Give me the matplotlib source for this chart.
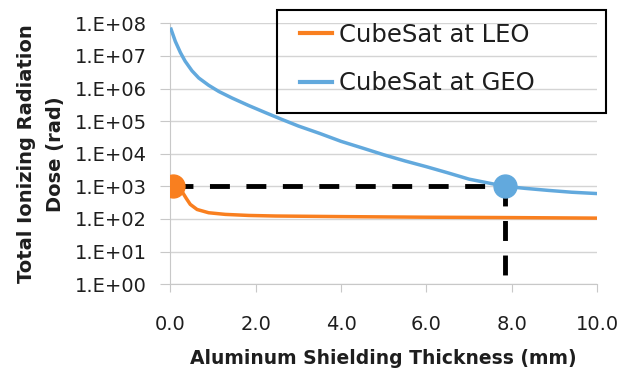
import numpy as np
import matplotlib
matplotlib.use('Agg')
import matplotlib.pyplot as plt
from matplotlib.patches import Rectangle

plt.rcParams['font.family'] = ['DejaVu Sans']

# GEO curve
geo_x = [0.02, 0.12, 0.24, 0.35, 0.51, 0.67, 0.90, 1.14, 1.45, 1.84, 2.24, 2.6, 3.0, 3.5, 4.0, 4.5,
         5.0, 5.5, 6.0, 6.5, 7.0, 7.5, 7.85, 8.3, 8.86, 9.4, 10.0]
geo_y = [6.6e7, 2.8e7, 1.26e7, 6.9e6, 3.5e6, 2.1e6, 1.26e6, 8.1e5, 5.1e5, 3.0e5, 1.8e5, 1.15e5, 7.1e4,
         4.2e4, 2.4e4, 1.5e4, 9.3e3, 6.0e3, 4.0e3, 2.6e3, 1.66e3, 1.23e3, 1.0e3, 870, 750, 660, 600]
# LEO curve
leo_x = [0.08, 0.2, 0.3, 0.38, 0.47, 0.63, 0.9, 1.29, 1.84, 2.47, 4.0, 6.0, 8.0, 10.0]
leo_y = [1000, 850, 620, 420, 280, 195, 155, 138, 128, 123, 118, 113, 110, 106]

# marked points
leo_pt = (0.07, 1000)
geo_pt = (7.85, 1000)

labels = ['CubeSat at LEO', 'CubeSat at GEO']
c_leo = '#f97f1f'
c_geo = '#62a9dd'
txt = '#1e1e1e'

fig = plt.figure(figsize=(6.28, 3.70), dpi=100)
ax = fig.add_axes([0.271, 0.232, 0.680, 0.705])

ax.set_yscale('log')
ax.set_ylim(1, 1e8)
ax.set_xlim(0, 10)

for v in [10.0**k for k in range(0, 9)]:
    ax.axhline(v, color='#d4d4d4', lw=1, zorder=0)

l1, = ax.plot(leo_x, leo_y, color=c_leo, lw=2.5, label=labels[0], zorder=3)
l2, = ax.plot(geo_x, geo_y, color=c_geo, lw=2.5, label=labels[1], zorder=3)

ax.plot([leo_pt[0], geo_pt[0]], [leo_pt[1], geo_pt[1]], color='black', lw=3.5,
        dashes=(4.1, 3.4), zorder=4)
ax.plot([geo_pt[0], geo_pt[0]], [geo_pt[1], 1.0], color='black', lw=3.5,
        dashes=(4.1, 3.0), zorder=4, clip_on=False)

ax.plot(*leo_pt, 'o', color=c_leo, ms=16.5, zorder=5)
ax.plot(*geo_pt, 'o', color=c_geo, ms=16.5, zorder=5)

ax.set_yticks([10.0**k for k in range(0, 9)])
ax.set_yticklabels(['1.E+%02d' % k for k in range(0, 9)])
ax.yaxis.set_minor_locator(matplotlib.ticker.NullLocator())
ax.set_xticks(np.arange(0, 10.1, 2))
ax.set_xticklabels(['%.1f' % v for v in np.arange(0, 10.1, 2)])

for s in ['top', 'right']:
    ax.spines[s].set_visible(False)
for s in ['left', 'bottom']:
    ax.spines[s].set_color('#c8c8c8')
ax.tick_params(axis='both', colors='#c8c8c8', labelcolor=txt, labelsize=14)
ax.tick_params(axis='y', length=7, pad=10)
ax.tick_params(axis='x', length=6, pad=16)

ax.set_ylabel('Total Ionizing Radiation\nDose (rad)', fontsize=14, fontweight='bold',
              color=txt, linespacing=1.68)
ax.yaxis.set_label_coords(-0.246, 0.5)
ax.set_xlabel('Aluminum Shielding Thickness (mm)', fontsize=13.5, fontweight='bold',
              color=txt)
ax.xaxis.set_label_coords(0.5, -0.248)

# legend box (wider than its content, as in the original)
fig.patches.append(Rectangle((277 / 628, 1 - 113 / 370), 329 / 628, 103 / 370,
                             transform=fig.transFigure, fill=False, ec='black', lw=1.5))
leg = fig.legend(handles=[l1, l2], loc='upper left', bbox_to_anchor=(300 / 628, 1 - 23 / 370),
                 borderaxespad=0, borderpad=0, fontsize=17.5, frameon=False,
                 handlelength=1.3, handletextpad=0.3, labelspacing=1.0)
for t in leg.get_texts():
    t.set_color(txt)
for h in leg.get_lines():
    h.set_linewidth(3)

fig.savefig('out.png', dpi=100)
